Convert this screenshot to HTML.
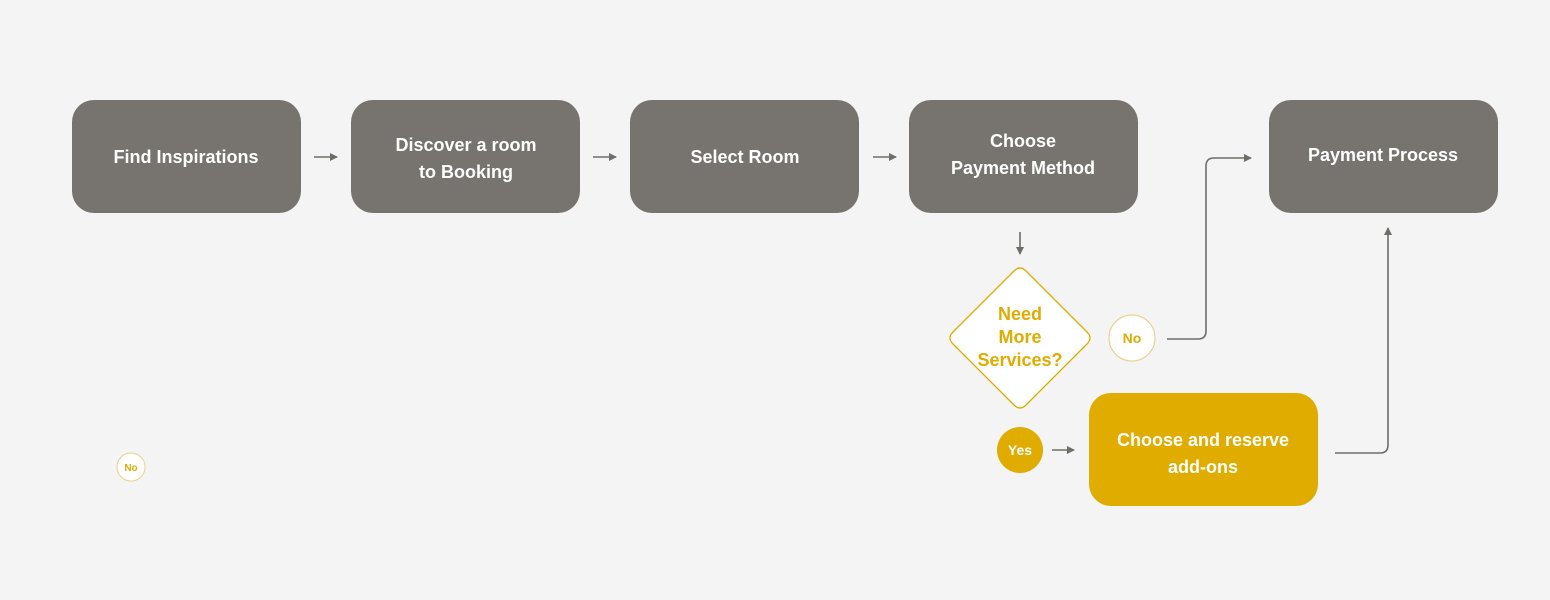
<!DOCTYPE html>
<html><head><style>
html,body{margin:0;padding:0;background:#f4f4f4;}
svg{display:block}
text{font-family:"Liberation Sans",sans-serif;font-weight:bold;}
</style></head><body>
<svg width="1550" height="600" viewBox="0 0 1550 600" xmlns="http://www.w3.org/2000/svg">
<rect width="1550" height="600" fill="#f4f4f4"/>
<defs><marker id="a" markerWidth="8" markerHeight="8" refX="7" refY="4" orient="auto" markerUnits="userSpaceOnUse"><path d="M0,0 L8,4 L0,8 z" fill="#6f6d69"/></marker></defs>
<g fill="#77746f">
<rect x="72" y="100" width="229" height="113" rx="22"/>
<rect x="351" y="100" width="229" height="113" rx="22"/>
<rect x="630" y="100" width="229" height="113" rx="22"/>
<rect x="909" y="100" width="229" height="113" rx="22"/>
<rect x="1269" y="100" width="229" height="113" rx="22"/>
</g>
<rect x="1089" y="393" width="229" height="113" rx="22" fill="#e0ac00"/>
<g fill="#fff" font-size="18" text-anchor="middle">
<text x="186" y="163">Find Inspirations</text>
<text x="466" y="151">Discover a room</text>
<text x="466" y="178">to Booking</text>
<text x="745" y="163">Select Room</text>
<text x="1023" y="147">Choose</text>
<text x="1023" y="174">Payment Method</text>
<text x="1383" y="161">Payment Process</text>
<text x="1203" y="446">Choose and reserve</text>
<text x="1203" y="473">add-ons</text>
</g>
<g stroke="#6f6d69" stroke-width="1.6" fill="none">
<line x1="314" y1="157" x2="337" y2="157" marker-end="url(#a)"/>
<line x1="593" y1="157" x2="616" y2="157" marker-end="url(#a)"/>
<line x1="873" y1="157" x2="896" y2="157" marker-end="url(#a)"/>
<line x1="1020" y1="232" x2="1020" y2="254" marker-end="url(#a)"/>
<line x1="1052" y1="450" x2="1074" y2="450" marker-end="url(#a)"/>
<path d="M1167,339 H1198 Q1206,339 1206,331 V166 Q1206,158 1214,158 H1251" marker-end="url(#a)"/>
<path d="M1335,453 H1380 Q1388,453 1388,445 V228" marker-end="url(#a)"/>
</g>
<path d="M1014,271 Q1020,265 1026,271 L1087,332 Q1093,338 1087,344 L1026,405 Q1020,411 1014,405 L953,344 Q947,338 953,332 Z" fill="#fff" stroke="#e0ac00" stroke-width="1.3"/>
<g fill="#e0ac00" font-size="18" text-anchor="middle">
<text x="1020" y="320">Need</text>
<text x="1020" y="343">More</text>
<text x="1020" y="366">Services?</text>
</g>
<circle cx="1132" cy="338" r="23" fill="#fff" stroke="#ecd18a" stroke-width="1.2"/>
<text x="1132" y="343" font-size="14" fill="#e0ac00" text-anchor="middle">No</text>
<circle cx="1020" cy="450" r="23" fill="#e0ac00"/>
<text x="1020" y="455" font-size="14" fill="#fff" text-anchor="middle">Yes</text>
<circle cx="131" cy="467" r="14" fill="#fff" stroke="#ecd18a" stroke-width="1"/>
<text x="131" y="471" font-size="10" fill="#e0ac00" text-anchor="middle">No</text>
</svg>
</body></html>
